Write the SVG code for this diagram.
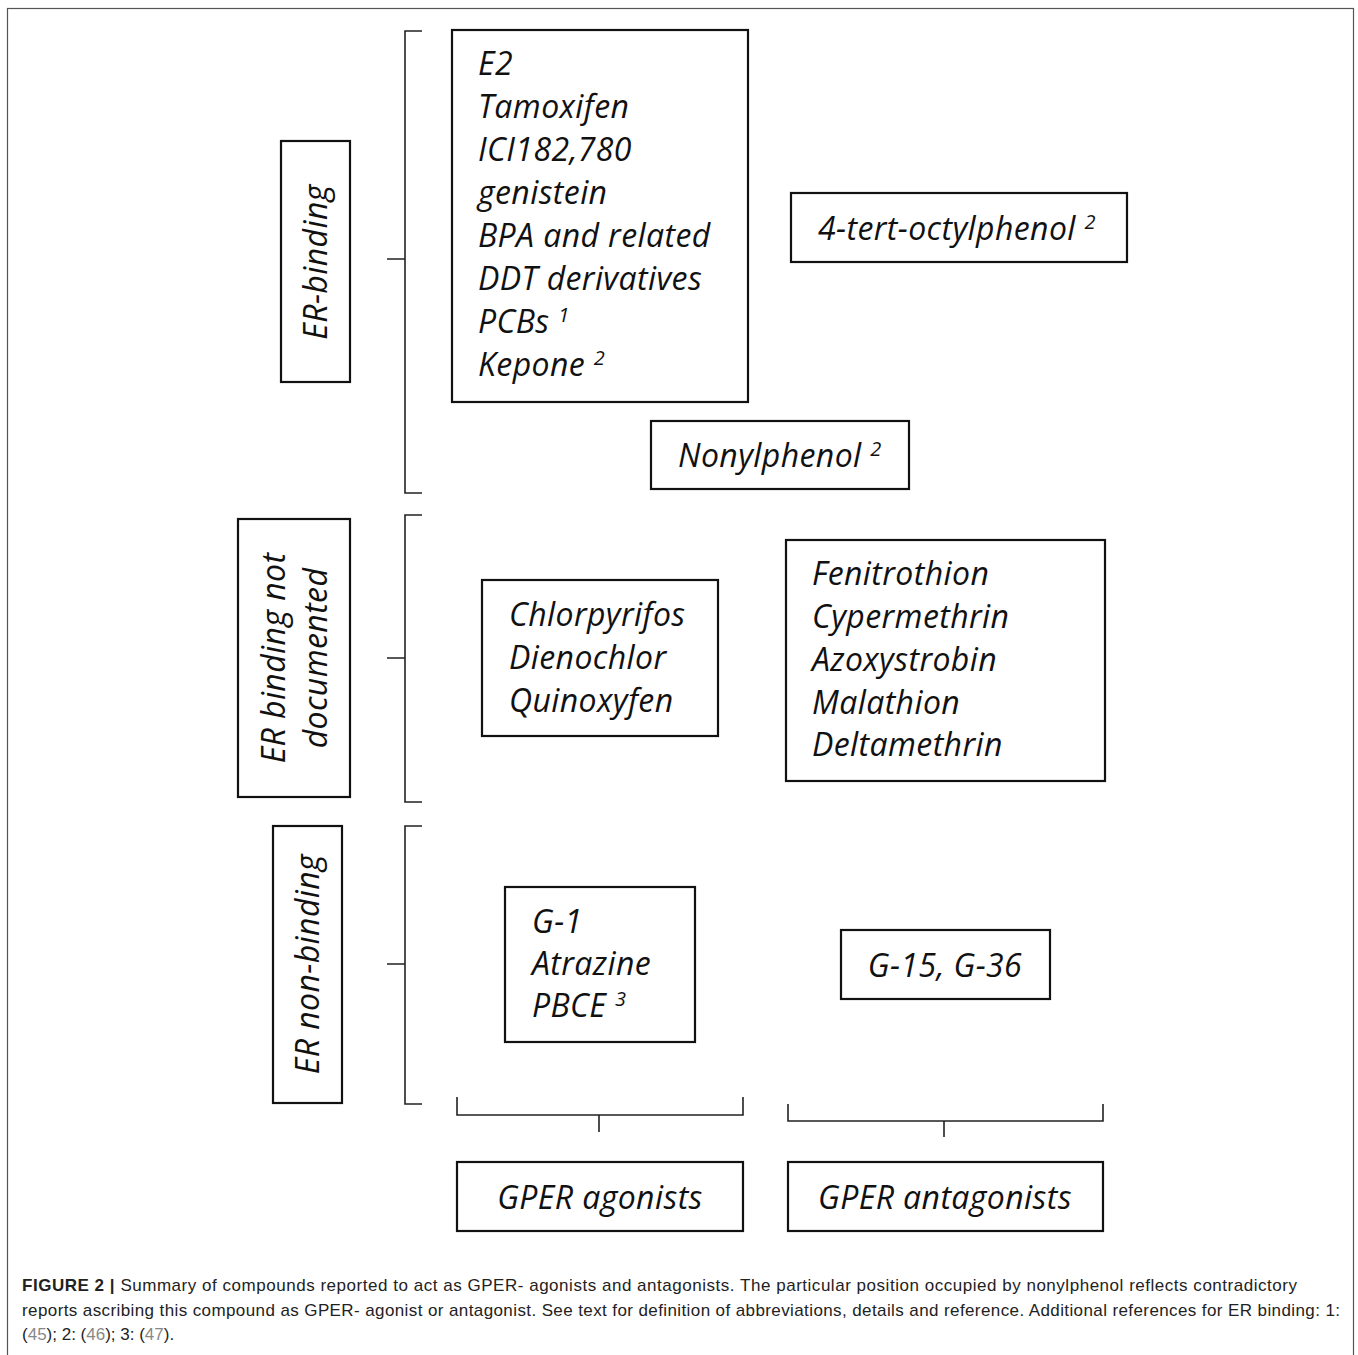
<svg xmlns="http://www.w3.org/2000/svg" width="1358" height="1355" viewBox="0 0 1358 1355">
<style>
.box{fill:#fff;stroke:#111;stroke-width:2.2}
.br{fill:none;stroke:#222;stroke-width:1.6}
.t{font-family:"Open Sans",Lato,sans-serif;font-style:italic;font-size:32px;letter-spacing:0.4px;fill:#111}
.sup{font-size:20px}
.cap{font-family:"Liberation Sans",Arial,sans-serif;font-size:17px;fill:#222}
.ref{fill:#888}
</style>
<rect x="7.5" y="8.5" width="1346" height="1360" fill="#fff" stroke="#555" stroke-width="1.2"/>
<g id="connectors">
<path class="br" d="M422,31 H405 V493 H422 M387,259 H405"/>
<path class="br" d="M422,515 H405 V802 H422 M387,658 H405"/>
<path class="br" d="M422,826 H405 V1104 H422 M387,964 H405"/>
<path class="br" d="M457,1097 V1115 H743 V1097 M599,1115 V1132"/>
<path class="br" d="M788,1104 V1121 H1103 V1104 M944,1121 V1137"/>
</g>
<g id="er-binding"><rect class="box" x="281" y="141" width="69" height="241"/>
<text class="t" transform="translate(327,262) rotate(-90)" text-anchor="middle">ER-binding</text></g>
<g id="er-not-documented"><rect class="box" x="238" y="519" width="112" height="278"/>
<text class="t" transform="translate(285,658) rotate(-90)" text-anchor="middle">ER binding not</text>
<text class="t" transform="translate(327,658) rotate(-90)" text-anchor="middle">documented</text></g>
<g id="er-non-binding"><rect class="box" x="273" y="826" width="69" height="277"/>
<text class="t" transform="translate(319,964) rotate(-90)" text-anchor="middle">ER non-binding</text></g>
<g id="er-binding-agonists"><rect class="box" x="452" y="30" width="296" height="372"/>
<text class="t" x="478" y="75">E2</text>
<text class="t" x="478" y="118">Tamoxifen</text>
<text class="t" x="478" y="161">ICI182,780</text>
<text class="t" x="478" y="204">genistein</text>
<text class="t" x="478" y="247">BPA and related</text>
<text class="t" x="478" y="290">DDT derivatives</text>
<text class="t" x="478" y="333">PCBs <tspan class="sup" dy="-11">1</tspan></text>
<text class="t" x="478" y="376">Kepone <tspan class="sup" dy="-11">2</tspan></text></g>
<g id="octylphenol"><rect class="box" x="791" y="193" width="336" height="69"/>
<text class="t" x="818" y="240">4-tert-octylphenol <tspan class="sup" dy="-11">2</tspan></text></g>
<g id="nonylphenol"><rect class="box" x="651" y="421" width="258" height="68"/>
<text class="t" x="678" y="467">Nonylphenol <tspan class="sup" dy="-11">2</tspan></text></g>
<g id="chlorpyrifos"><rect class="box" x="482" y="580" width="236" height="156"/>
<text class="t" x="509" y="626">Chlorpyrifos</text>
<text class="t" x="509" y="669">Dienochlor</text>
<text class="t" x="509" y="712">Quinoxyfen</text></g>
<g id="fenitrothion"><rect class="box" x="786" y="540" width="319" height="241"/>
<text class="t" x="812" y="585">Fenitrothion</text>
<text class="t" x="812" y="628">Cypermethrin</text>
<text class="t" x="812" y="671">Azoxystrobin</text>
<text class="t" x="812" y="714">Malathion</text>
<text class="t" x="812" y="756">Deltamethrin</text></g>
<g id="g1"><rect class="box" x="505" y="887" width="190" height="155"/>
<text class="t" x="532" y="933">G-1</text>
<text class="t" x="532" y="975">Atrazine</text>
<text class="t" x="532" y="1017">PBCE <tspan class="sup" dy="-11">3</tspan></text></g>
<g id="g15"><rect class="box" x="841" y="930" width="209" height="69"/>
<text class="t" x="945" y="977" text-anchor="middle">G-15, G-36</text></g>
<g id="gper-agonists"><rect class="box" x="457" y="1162" width="286" height="69"/>
<text class="t" x="600" y="1209" text-anchor="middle">GPER agonists</text></g>
<g id="gper-antagonists"><rect class="box" x="788" y="1162" width="315" height="69"/>
<text class="t" x="945" y="1209" text-anchor="middle">GPER antagonists</text></g>
<g id="caption">
<text class="cap" x="22" y="1291" textLength="1275" lengthAdjust="spacing"><tspan font-weight="bold">FIGURE 2 |</tspan> Summary of compounds reported to act as GPER- agonists and antagonists. The particular position occupied by nonylphenol reflects contradictory</text>
<text class="cap" x="22" y="1316" textLength="1318" lengthAdjust="spacing">reports ascribing this compound as GPER- agonist or antagonist. See text for definition of abbreviations, details and reference. Additional references for ER binding: 1:</text>
<text class="cap" x="22" y="1340">(<tspan class="ref">45</tspan>); 2: (<tspan class="ref">46</tspan>); 3: (<tspan class="ref">47</tspan>).</text>
</g>
</svg>
